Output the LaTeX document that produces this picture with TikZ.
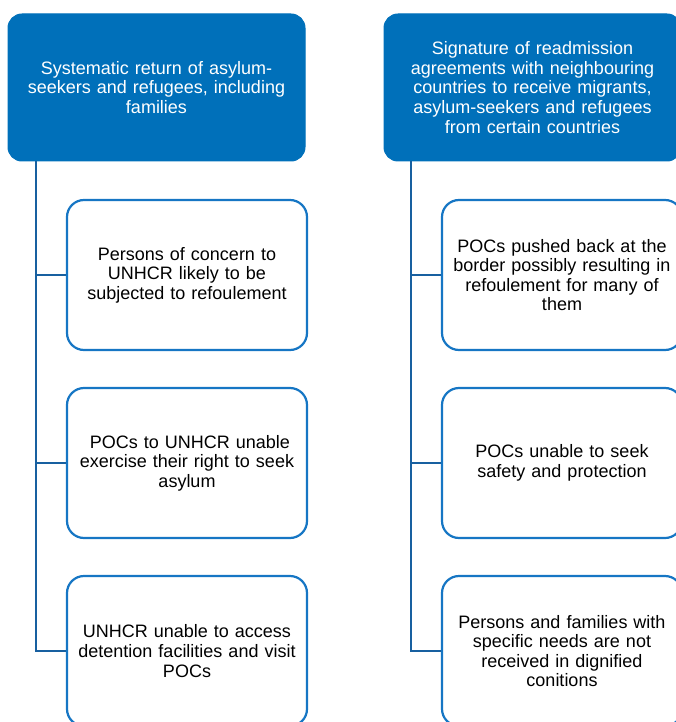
\documentclass[tikz,border=0pt]{standalone}
\usepackage{fontspec}
\setmainfont{Liberation Sans}
\definecolor{hdrblue}{RGB}{0,112,186}
\definecolor{bordblue}{RGB}{22,118,196}
\definecolor{linkblue}{RGB}{24,96,160}
\begin{document}
\begin{tikzpicture}[x=1pt,y=-1pt,
  header/.style={draw=hdrblue, fill=hdrblue, rounded corners=14pt, line width=1pt,
    text=white, minimum width=297pt, minimum height=147pt, text width=280pt, align=center,
    font=\fontsize{18pt}{19.6pt}\selectfont, inner sep=0pt},
  child/.style={draw=bordblue, fill=white, rounded corners=17pt, line width=2.2pt,
    minimum width=240pt, minimum height=150pt, text width=232pt, align=center,
    font=\fontsize{18pt}{19.6pt}\selectfont, inner sep=0pt},
  link/.style={draw=linkblue, line width=2.6pt}]
\useasboundingbox (0,0) rectangle (676,722);

\node[header] (h1) at (156.5,87.5) {Systematic return of asylum-\\seekers and refugees, including\\families};
\node[header] (h2) at (532.5,87.5) {Signature of readmission\\agreements with neighbouring\\countries to receive migrants,\\asylum-seekers and refugees\\from certain countries};

\node[child] (a1) at (187,275) {Persons of concern to\\UNHCR likely to be\\subjected to refoulement};
\node[child] (a2) at (187,463) {\ POCs to UNHCR unable\\exercise their right to seek\\asylum};
\node[child] (a3) at (187,651) {UNHCR unable to access\\detention facilities and visit\\POCs};

\node[child] (b1) at (562,275) {POCs pushed back at the\\border possibly resulting in\\refoulement for many of\\them};
\node[child] (b2) at (562,463) {POCs unable to seek\\safety and protection};
\node[child] (b3) at (562,651) {Persons and families with\\specific needs are not\\received in dignified\\conitions};

\coordinate (s1) at ([xshift=28.5pt]h1.south west);
\coordinate (s2) at ([xshift=27.5pt]h2.south west);

\path[link] (s1) |- (a1.west);
\path[link] (s1) |- (a2.west);
\path[link] (s1) |- (a3.west);
\path[link] (s2) |- (b1.west);
\path[link] (s2) |- (b2.west);
\path[link] (s2) |- (b3.west);
\end{tikzpicture}
\end{document}
